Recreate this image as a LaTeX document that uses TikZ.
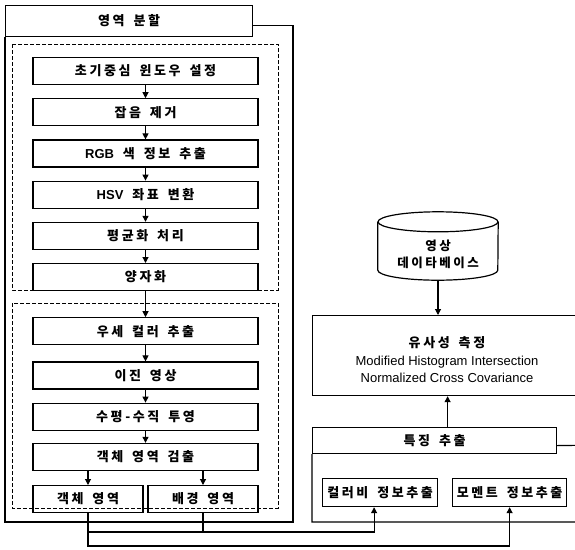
\documentclass[tikz,border=0pt]{standalone}
\usepackage{fontspec}
\setmainfont{Liberation Sans}
\newfontfamily\kr{Noto Sans CJK KR}[LetterSpace=20,WordSpace=1.6]
\newfontfamily\lat{Liberation Sans}
\usetikzlibrary{arrows.meta}

\begin{document}
\begin{tikzpicture}[x=1pt, y=-1pt,
  stepbox/.style={rectangle,draw,line width=1.2pt,minimum width=225pt,minimum height=27pt,inner sep=0,font=\kr\bfseries\fontsize{13}{14}\selectfont},
  halfbox/.style={stepbox,minimum width=110pt},
  group/.style={draw,line width=0.9pt,dash pattern=on 4pt off 2pt},
  frame/.style={draw,line width=1.2pt},
  conn/.style={line width=1.1pt},
  arr/.style={conn,-{Triangle[length=6pt,width=6pt]}}]
    \useasboundingbox (0,0) rectangle (575,549);
    \clip (0,0) rectangle (575,549);

    % left part
    \node at (5,5) [stepbox,anchor=north west,minimum width=247pt,minimum height=31pt] (split) {영역 분할};
    \draw[frame] ([yshift=-4pt]split.east) -| (293,522) -- (5,522) -- (split.south west);
    \draw[group] (12,44) rectangle (278,290);
    \draw[group] (12,303) rectangle (278,508);

    \node at (145.5,57) [stepbox,anchor=north] (init) {초기중심 윈도우 설정};
    \node at ([yshift=-13pt]init.south) [stepbox,anchor=north] (noise) {잡음 제거};
    \node at ([yshift=-13pt]noise.south) [stepbox,anchor=north] (rgb) {{\lat RGB} 색 정보 추출};
    \node at ([yshift=-13pt]rgb.south) [stepbox,anchor=north] (hsv) {{\lat HSV} 좌표 변환};
    \node at ([yshift=-13pt]hsv.south) [stepbox,anchor=north] (norm) {평균화 처리};
    \node at ([yshift=-13pt]norm.south) [stepbox,anchor=north] (quant) {양자화};
    \node at ([yshift=-26pt]quant.south) [stepbox,anchor=north] (domin) {우세 컬러 추출};
    \node at ([yshift=-16pt]domin.south) [stepbox,anchor=north] (binary) {이진 영상};
    \node at ([yshift=-13pt]binary.south) [stepbox,anchor=north] (proj) {수평-수직 투영};
    \node at ([yshift=-12pt]proj.south) [stepbox,anchor=north] (detect) {객체 영역 검출};
    \node at ([yshift=-14pt]detect.south west) [halfbox,anchor=north west] (obj) {객체 영역};
    \node at ([yshift=-14pt]detect.south east) [halfbox,anchor=north east] (bg) {배경 영역};

    \foreach \a/\b in {init/noise,noise/rgb,rgb/hsv,hsv/norm,norm/quant,quant/domin,domin/binary,binary/proj,proj/detect}
        \draw[arr] (\a) -- (\b);
    \draw[arr] (obj.north |- detect.south) -- (obj.north);
    \draw[arr] (bg.north |- detect.south) -- (bg.north);

    % right part
    \node at (438,246) [minimum width=120pt,minimum height=68pt,inner sep=0] (db) {};
    \draw[frame] ([yshift=-10pt]db.north) ellipse [x radius=60pt, y radius=10pt];
    \draw[frame] ([yshift=-10pt]db.north west) -- ([yshift=10pt]db.south west) arc [start angle=180, end angle=360, x radius=60pt, y radius=10pt] -- ([yshift=-10pt]db.north east);
    \node at (438,254) [font=\kr\bfseries\fontsize{12.5}{17}\selectfont,align=center] (dbname) {영상\\데이타베이스};

    \node at (312,315) [anchor=north west,frame,minimum width=270pt,minimum height=80pt,inner sep=0] (sim) {};
    \node at (447,360) [align=center,font=\fontsize{13}{17.5}\selectfont] (simtext) {{\kr\bfseries 유사성 측정}\\Modified Histogram Intersection\\Normalized Cross Covariance};

    \node at (312,427) [stepbox,anchor=north west,minimum width=244pt,minimum height=26pt] (feat) {특징 추출};
    \draw[frame] ([yshift=-5pt]feat.east) -- (600,445) |- (312,522) -- (feat.south west);
    \node at (322,478) [stepbox,anchor=north west,minimum width=115pt,minimum height=28pt] (cratio) {컬러비 정보추출};
    \node at (452,478) [stepbox,anchor=north west,minimum width=114pt,minimum height=28pt] (moment) {모멘트 정보추출};

    \draw[arr] (db.south) -- (db.south |- sim.north);
    \draw[arr] (sim.south |- feat.north) -- (sim.south);

    % bottom connectors
    \coordinate (busA) at (0,532);
    \coordinate (busB) at (0,546);
    \draw[arr] (obj.south) -- (obj.south |- busA) -| ([xshift=-6pt]cratio.south);
    \draw[conn] (bg.south) -- (bg.south |- busA);
    \draw[arr] (obj.south) -- (obj.south |- busB) -| (moment.south);
\end{tikzpicture}
\end{document}
